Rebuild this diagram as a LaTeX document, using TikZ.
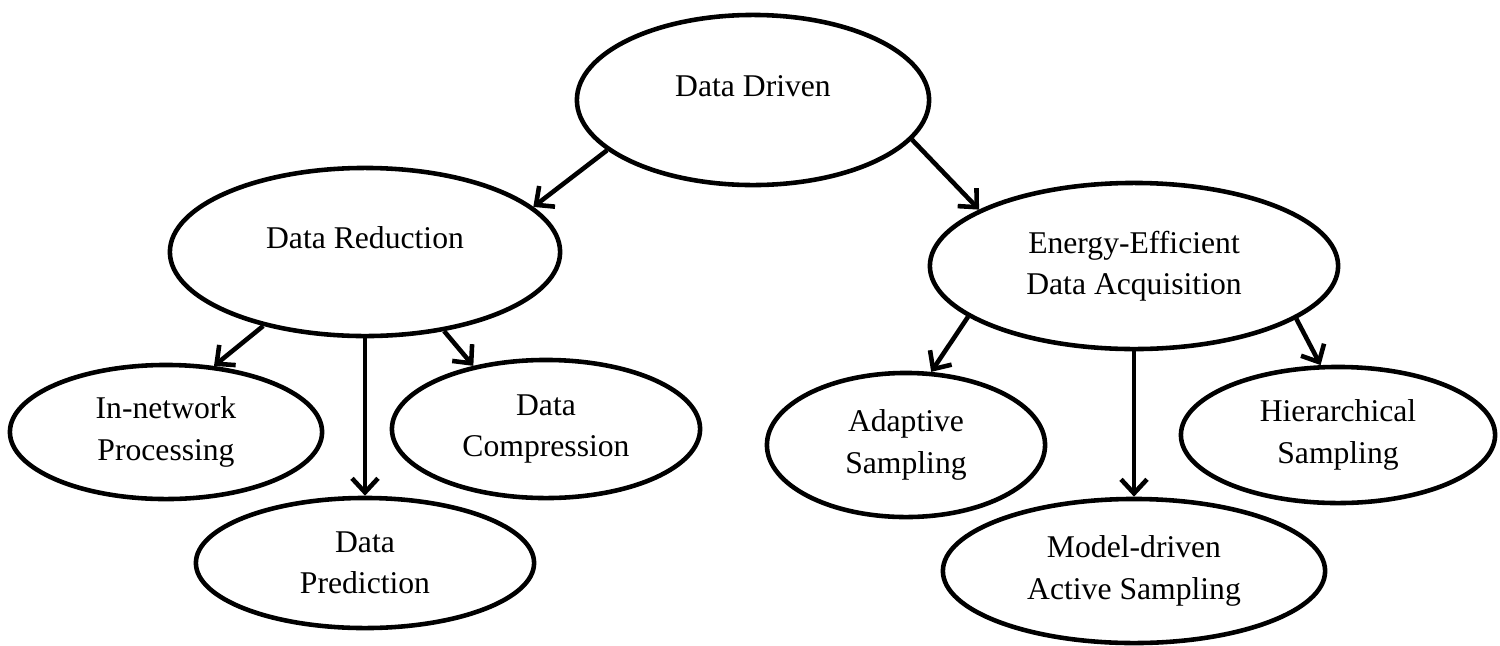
\documentclass[tikz,border=0pt]{standalone}
\usepackage{fontspec}
\setmainfont{Liberation Serif}
\usepackage{tikz}
\usetikzlibrary{shapes,arrows.meta}
\tikzstyle{bubble} = [draw, ellipse, line width=1.3pt, inner sep=0pt, align=center, font=\fontsize{9}{11.8}\selectfont]
\tikzstyle{Onelinebubble} = [bubble, text height=6pt, text depth=8pt]
\tikzstyle{link} = [line width=1.3pt, -{Straight Barb[length=1.4mm,width=2.6mm]}]

\begin{document}
\begin{tikzpicture}[x=0.01cm, y=-0.01cm]
\useasboundingbox (0,0) rectangle (1500,645);

%% Top %%
\node [Onelinebubble, minimum width=3.52cm, minimum height=1.70cm] (DataDriven) at (753,100) {Data Driven};

%% Second level %%
\node [Onelinebubble, minimum width=3.90cm, minimum height=1.68cm] (DataReduction) at (365,252) {Data Reduction};
\node [bubble, minimum width=4.08cm, minimum height=1.66cm] (Energy) at (1134,266) {Energy-Efficient\\Data Acquisition};

%% Data reduction leaves %%
\node [bubble, minimum width=3.12cm, minimum height=1.34cm] (InNetwork) at (166,432) {In-network\\Processing};
\node [bubble, minimum width=3.08cm, minimum height=1.38cm] (Compression) at (546,429) {Data\\Compression};
\node [bubble, minimum width=3.38cm, minimum height=1.30cm] (Prediction) at (365,563) {Data\\Prediction};

%% Acquisition leaves %%
\node [bubble, minimum width=2.78cm, minimum height=1.44cm] (Adaptive) at (906,445) {Adaptive\\Sampling};
\node [bubble, minimum width=3.14cm, minimum height=1.36cm] (Hierarchical) at (1338,435) {Hierarchical\\Sampling};
\node [bubble, minimum width=3.82cm, minimum height=1.44cm] (ModelDriven) at (1134,571) {Model-driven\\Active Sampling};

%% Forbindelse %%
\draw[link] (DataDriven.199) -- (DataReduction.15);
\draw[link] (DataDriven.346) -- (Energy.160);

\draw[link] (DataReduction.216) -- (InNetwork.54);
\draw[link] (DataReduction.south) -- (Prediction.north);
\draw[link] (DataReduction.315) -- (Compression.139);

\draw[link] (Energy.197) -- (Adaptive.71);
\draw[link] (Energy.south) -- (ModelDriven.north);
\draw[link] (Energy.342) -- (Hierarchical.104);
\end{tikzpicture}
\end{document}
